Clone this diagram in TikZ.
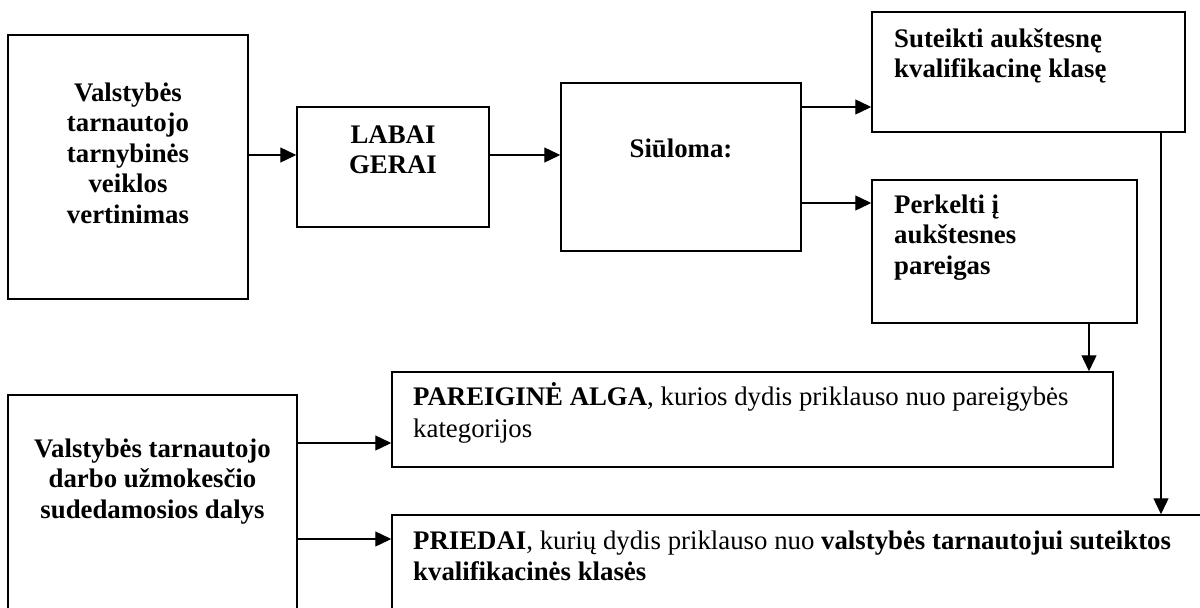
\documentclass[tikz,border=0pt]{standalone}
\usepackage{fontspec}
\setmainfont{Liberation Serif}
\usetikzlibrary{arrows.meta,calc}

\begin{document}
\begin{tikzpicture}[x=1pt,y=-1pt,
  box/.style={draw, line width=1.5pt, inner sep=0pt},
  arr/.style={line width=1.4pt, -{Triangle[length=16pt,width=15pt]}},
  txt/.style={inner sep=0pt, font=\fontsize{26.8pt}{30.5pt}\selectfont},
  ctxt/.style={txt, anchor=base, align=flush center},
  ltxt/.style={txt, anchor=base west, align=flush left}]

\useasboundingbox (0,0) rectangle (1200,608);
\clip (0,0) rectangle (1200,608);

% boxes
\node[box, minimum width=240pt, minimum height=264pt] (eval)    at (128,167)    {};
\node[box, minimum width=192pt, minimum height=120pt] (labai)   at (393,167)    {};
\node[box, minimum width=240pt, minimum height=168pt] (siul)    at (681,167)    {};
\node[box, minimum width=313pt, minimum height=120pt] (sut)     at (1028.5,72)  {};
\node[box, minimum width=265pt, minimum height=143pt] (perk)    at (1004.5,251.5) {};
\node[box, minimum width=721pt, minimum height=95pt]  (alga)    at (752.5,419.5) {};
\node[box, minimum width=289pt, minimum height=245pt] (dalys)   at (152.5,517.5) {};
\node[box, minimum width=838pt, minimum height=125pt] (priedai) at (811,577.5)  {};

% texts
\node[ctxt, text width=240pt] (evalt) at (128,101)
  {\bfseries Valstybės\\tarnautojo\\tarnybinės\\veiklos\\vertinimas};
\node[ctxt, text width=192pt] (labait) at (393,143) {\bfseries LABAI\\GERAI};
\node[ctxt, text width=240pt] (siult) at (681,157) {\bfseries Siūloma:};
\node[ltxt, text width=285pt] (sutt) at (894,47)
  {\bfseries Suteikti aukštesnę\\kvalifikacinę klasę};
\node[ltxt, text width=240pt] (perkt) at (894,213)
  {\bfseries Perkelti į\\aukštesnes\\pareigas};
\node[ltxt, text width=700pt] (algat) at (413,405)
  {\textbf{PAREIGINĖ ALGA}, kurios dydis priklauso nuo pareigybės\\[1.5pt]kategorijos};
\node[ltxt, text width=790pt] (priedait) at (413,549)
  {\textbf{PRIEDAI}, kurių dydis priklauso nuo \textbf{valstybės tarnautojui suteiktos}\\[0.5pt]\textbf{kvalifikacinės klasės}};
\node[ctxt, text width=289pt] (dalyst) at (152.5,457)
  {\bfseries Valstybės tarnautojo\\darbo užmokesčio\\sudedamosios dalys};

% connectors
\draw[arr] ([yshift=12pt]eval.east) -- ([yshift=12pt]eval.east -| labai.west);
\draw[arr] ([yshift=12pt]labai.east) -- ([yshift=12pt]labai.east -| siul.west);
\draw[arr] ([yshift=60pt]siul.east) -- ([yshift=60pt]siul.east -| sut.west);
\draw[arr] ([yshift=-36pt]siul.east) -- ([yshift=-36pt]siul.east -| perk.west);
\draw[arr] ([xshift=84.5pt]perk.south) -- ([xshift=84.5pt]perk.south |- alga.north);
\draw[arr] ([xshift=132.5pt]sut.south) -- ([xshift=132.5pt]sut.south |- priedai.north);
\draw[arr] ([yshift=74.5pt]dalys.east) -- ([yshift=74.5pt]dalys.east -| alga.west);
\draw[arr] ([yshift=-21.5pt]dalys.east) -- ([yshift=-21.5pt]dalys.east -| priedai.west);
\end{tikzpicture}
\end{document}
